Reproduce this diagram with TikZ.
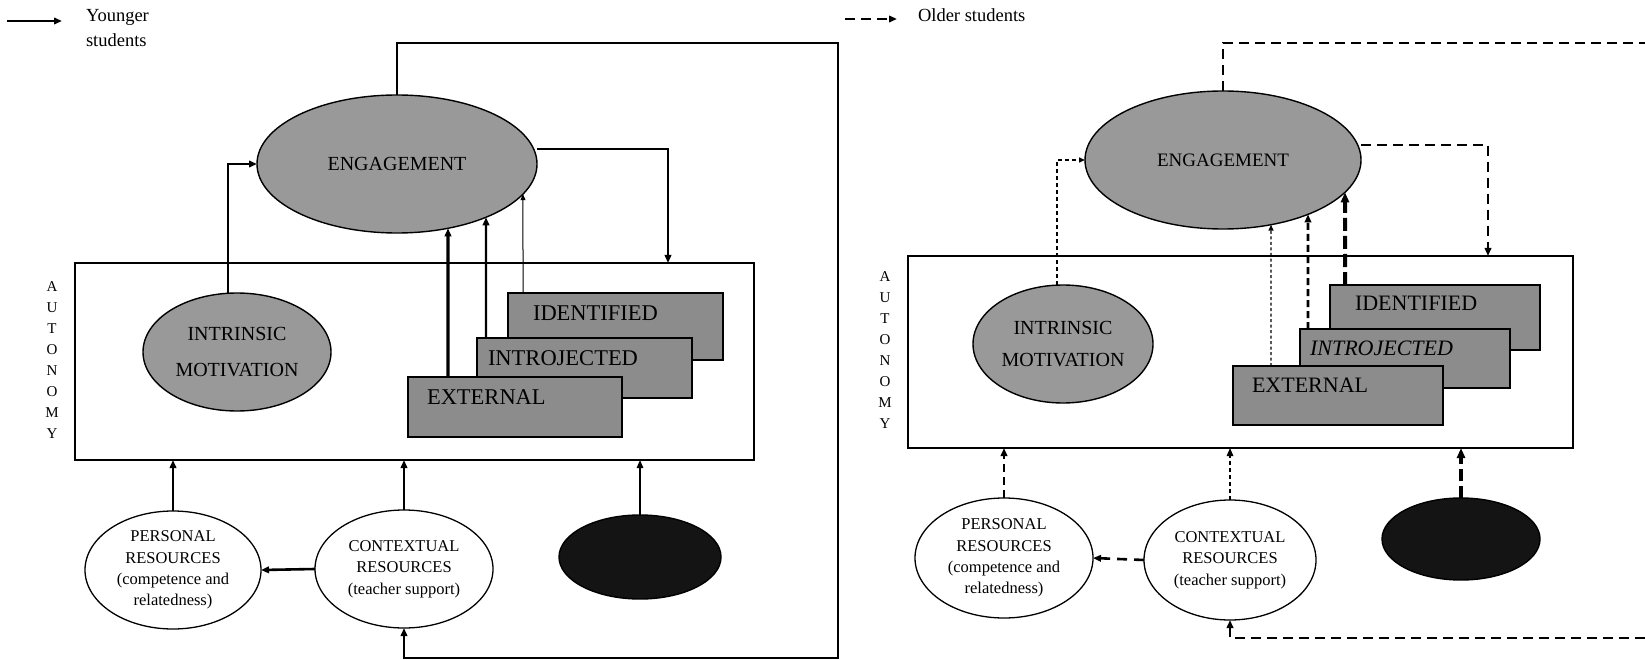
\documentclass[tikz,border=0pt]{standalone}
\usepackage{fontspec}
\setmainfont{Liberation Serif}
\usetikzlibrary{arrows.meta,shapes.geometric,intersections,calc}

\begin{document}
\begin{tikzpicture}[x=1pt,y=-1pt,
  every node/.style={inner sep=0pt, outer sep=0pt},
  tip/.style={-{Triangle[length=8pt,width=6.5pt]}},
  bigtip/.style={-{Triangle[length=10pt,width=8pt]}},
  smalltip/.style={-{Triangle[length=6pt,width=5pt]}},
  shaded/.style={ellipse, draw=black, line width=1.4pt, fill=black!40, align=center},
  block/.style={rectangle, draw=black, line width=1.4pt, fill=black!45},
  res/.style={ellipse, draw=black, line width=1.3pt, fill=white, align=center,
    font=\fontsize{16.5}{21.3}\selectfont},
  dark/.style={ellipse, draw=black, line width=1.4pt, fill=black!92},
  frame/.style={rectangle, draw=black, line width=1.8pt},
  lab/.style={font=\fontsize{22.5}{24}\selectfont, anchor=west},
  legend/.style={font=\fontsize{18.5}{25}\selectfont, align=left, anchor=west},
  letters/.style={font=\fontsize{15}{20.9}\selectfont, align=center},
  wline/.style={line width=#1},
  dline/.style={line width=2pt, dash pattern=on 10pt off 6pt},
  fline/.style={line width=1.4pt, dash pattern=on 4pt off 3pt},
]
\useasboundingbox (0,0) rectangle (1645,660);

% ---------------- legend ----------------
\coordinate (lgA1) at (7,21);
\coordinate (lgA2) at (62,21);
\draw[wline=2.6pt, tip] (lgA1) -- (lgA2);
\node[legend] (lgY) at (86,28.5) {Younger\\students};

\coordinate (lgB1) at (845,19);
\coordinate (lgB2) at (897,19);
\draw[line width=2.6pt, dash pattern=on 10pt off 6pt, tip] (lgB1) -- (lgB2);
\node[legend] (lgO) at (918,15) {Older students};

% ================= younger students =================
\node[frame, minimum width=679, minimum height=197] (boxL) at (414.5,361.5) {};
\node[letters] (autL) at (52,360) {A\\U\\T\\O\\N\\O\\M\\Y};

\node[shaded, minimum width=280, minimum height=138, name path=engLp,
  font=\fontsize{20}{24}\selectfont] (engL) at (397,164) {ENGAGEMENT};
\node[shaded, minimum width=188, minimum height=118,
  font=\fontsize{20}{36}\selectfont] (intL) at (237,352) {INTRINSIC\\MOTIVATION};

\node[block, minimum width=215, minimum height=67] (idL) at (615.5,326.5) {};
\node[lab] (idLt) at (533,313) {IDENTIFIED};
\node[block, minimum width=215, minimum height=60] (inL) at (584.5,368) {};
\node[lab] (inLt) at (488,358) {INTROJECTED};
\node[block, minimum width=214, minimum height=60] (exL) at (515,407) {};
\node[lab] (exLt) at (427,397) {EXTERNAL};

\node[res, minimum width=176, minimum height=118] (perL) at (173,570)
  {PERSONAL\\RESOURCES\\(competence and\\relatedness)};
\node[res, minimum width=178, minimum height=118] (ctxL) at (404,569)
  {CONTEXTUAL\\RESOURCES\\(teacher support)};
\node[dark, minimum width=162, minimum height=84] (blkL) at (640,557) {};

% feedback loop round the right side
\coordinate (loopLT) at (838,43);
\coordinate (loopLB) at (838,658);
\draw[wline=2pt, tip] (engL.north) |- (loopLT) -- (loopLB) -| (ctxL.south);

% intrinsic motivation into engagement
\draw[wline=2.8pt, tip] ([xshift=-9pt]intL.north) |- (engL.west);

% engagement back into the autonomy frame
\coordinate (dropL) at (668,0);
\draw[wline=2pt, tip] ([yshift=15pt]engL.east) -| (boxL.north -| dropL);

% regulation styles up to the lower rim of engagement
\coordinate (xLa) at (448,0);
\coordinate (xLb) at (486,0);
\coordinate (xLc) at (523,0);
\path[name path=vLa] (exL.north -| xLa) -- (engL.center -| xLa);
\path[name path=vLb] (inL.north -| xLb) -- (engL.center -| xLb);
\path[name path=vLc] (idL.north -| xLc) -- (engL.center -| xLc);
\path[name intersections={of=engLp and vLa, by=iLa}];
\path[name intersections={of=engLp and vLb, by=iLb}];
\path[name intersections={of=engLp and vLc, by=iLc}];
\draw[wline=3.2pt, tip] (exL.north -| xLa) -- (iLa);
\draw[wline=2.2pt, tip] (inL.north -| xLb) -- (iLb);
\draw[wline=1pt, smalltip] (idL.north -| xLc) -- (iLc);

% resources up to the autonomy frame
\draw[wline=2pt, tip] (perL.north) -- (perL.north |- boxL.south);
\draw[wline=2pt, tip] (ctxL.north) -- (ctxL.north |- boxL.south);
\draw[wline=1.4pt, tip] (blkL.north) -- (blkL.north |- boxL.south);
\draw[wline=2.6pt, tip] (ctxL.west) -- (perL.east);

% ================= older students =================
\node[frame, minimum width=665, minimum height=192] (boxR) at (1240.5,352) {};
\node[letters] (autR) at (885,350) {A\\U\\T\\O\\N\\O\\M\\Y};

\node[shaded, minimum width=276, minimum height=138, name path=engRp,
  font=\fontsize{19}{24}\selectfont] (engR) at (1223,160) {ENGAGEMENT};
\node[shaded, minimum width=180, minimum height=118,
  font=\fontsize{20}{32}\selectfont] (intR) at (1063,344) {INTRINSIC\\MOTIVATION};

\node[block, minimum width=210, minimum height=65] (idR) at (1435,317.5) {};
\node[lab, font=\fontsize{22}{24}\selectfont] (idRt) at (1355,303) {IDENTIFIED};
\node[block, minimum width=210, minimum height=59] (inR) at (1405,358.5) {};
\node[lab, font=\fontsize{22}{24}\selectfont] (inRt) at (1310,348) {\textit{INTROJECTED}};
\node[block, minimum width=210, minimum height=59] (exR) at (1338,395.5) {};
\node[lab, font=\fontsize{22}{24}\selectfont] (exRt) at (1252,385) {EXTERNAL};

\node[res, minimum width=178, minimum height=120] (perR) at (1004,558)
  {PERSONAL\\RESOURCES\\(competence and\\relatedness)};
\node[res, minimum width=172, minimum height=120] (ctxR) at (1230,560)
  {CONTEXTUAL\\RESOURCES\\(teacher support)};
\node[dark, minimum width=158, minimum height=82] (blkR) at (1461,539) {};

% feedback loop running off the right edge
\coordinate (loopRT) at (1645,43);
\coordinate (loopRB) at (1645,638);
\draw[dline] (engR.north) |- (loopRT);
\draw[dline, tip] (loopRB) -| (ctxR.south);

% intrinsic motivation into engagement
\draw[fline, smalltip] ([xshift=-6pt]intR.north) |- (engR.west);

% engagement back into the autonomy frame
\coordinate (dropR) at (1488,0);
\draw[dline, tip] ([yshift=15pt]engR.east) -| (boxR.north -| dropR);

% regulation styles up to the lower rim of engagement
\coordinate (xRa) at (1271,0);
\coordinate (xRb) at (1308,0);
\coordinate (xRc) at (1345,0);
\path[name path=vRa] (exR.north -| xRa) -- (engR.center -| xRa);
\path[name path=vRb] (inR.north -| xRb) -- (engR.center -| xRb);
\path[name path=vRc] (idR.north -| xRc) -- (engR.center -| xRc);
\path[name intersections={of=engRp and vRa, by=iRa}];
\path[name intersections={of=engRp and vRb, by=iRb}];
\path[name intersections={of=engRp and vRc, by=iRc}];
\draw[line width=1.3pt, dash pattern=on 3pt off 2.5pt, smalltip] (exR.north -| xRa) -- (iRa);
\draw[line width=2.6pt, dash pattern=on 7pt off 4pt, tip] (inR.north -| xRb) -- (iRb);
\draw[line width=4pt, dash pattern=on 13pt off 5pt, bigtip] (idR.north -| xRc) -- (iRc);

% resources up to the autonomy frame
\draw[line width=2pt, dash pattern=on 8pt off 5pt, tip] (perR.north) -- (perR.north |- boxR.south);
\draw[fline, tip] (ctxR.north) -- (ctxR.north |- boxR.south);
\draw[line width=4pt, dash pattern=on 12pt off 5pt, bigtip] (blkR.north) -- (blkR.north |- boxR.south);
\draw[line width=2.6pt, dash pattern=on 10pt off 7pt, tip] (ctxR.west) -- (perR.east);

\end{tikzpicture}
\end{document}
